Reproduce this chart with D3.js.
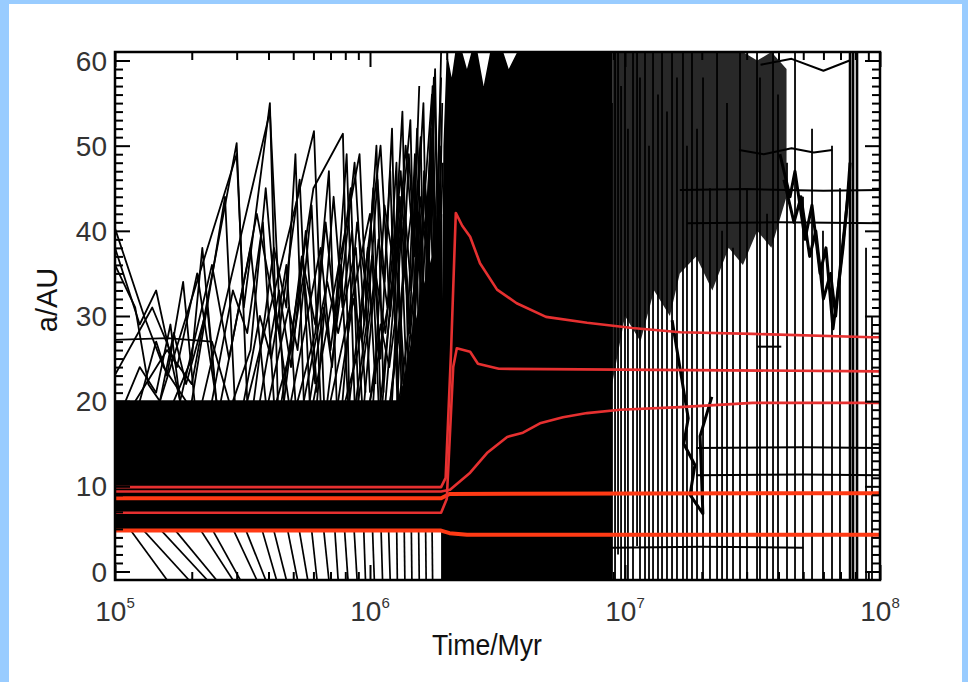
<!DOCTYPE html>
<html><head><meta charset="utf-8">
<script src="https://cdn.jsdelivr.net/npm/d3@7"></script>
<style>
html,body{margin:0;padding:0;background:#99ccff;}
svg{display:block}
</style></head><body>
<svg id="chart" width="968" height="682"></svg>
<script>
// ---------------- data ----------------
const xTickValues = [1e5, 1e6, 1e7, 1e8];
const xTickExponents = ["5", "6", "7", "8"];
const yTickValues = [0, 10, 20, 30, 40, 50, 60];

// dense band of planetesimals before the instability (time, low a, high a)
const bandTimes = [1e5, 1.95e6];
const bandLow = [4.9, 4.9];
const bandHigh = [20.1, 20.1];

// densest part of the scattered mesh just before the instability
const meshTimes = [1.3e6, 1.45e6, 1.6e6, 1.75e6, 1.92e6];
const meshTop = [20, 27, 33, 37, 42];

// fully chaotic phase: envelope of the black region (low edge at bottom)
const chaosTimes = [1.9e6, 1.94e6, 2.0e6, 2.09e6, 2.16e6, 2.3e6, 2.4e6, 2.5e6, 2.64e6, 2.79e6, 2.96e6, 3.12e6, 3.33e6, 3.5e6, 3.78e6, 4.07e6, 4.44e6, 4.87e6, 5.3e6, 6.1e6, 7.0e6, 7.98e6, 8.9e6];
const chaosTop = [20, 50, 61, 58, 61, 61, 59, 61, 61, 57, 61, 61, 61, 59, 61, 61, 61, 61, 61, 61, 61, 61, 61];

// upper dense scattered region after the instability
const scatterTimes = [8.9e6, 1.0e7, 1.15e7, 1.3e7, 1.5e7, 1.64e7, 1.9e7, 2.2e7, 2.55e7, 2.9e7, 3.3e7, 3.75e7, 4.3e7];
const scatterLow = [22, 30, 27, 33, 30, 35, 37, 33, 38, 36, 40, 38, 44];
const scatterHigh = [61, 61, 61, 61, 61, 61, 61, 61, 61, 61, 60, 61, 59];

// individual planetesimal tracks, early phase [time, a]
const earlyTracks = [
  [[1e5,40.3],[1.3e5,30],[1.55e5,24],[1.9e5,20]],
  [[1e5,38],[1.25e5,29],[1.45e5,33],[1.8e5,20]],
  [[1e5,36],[1.2e5,31],[1.35e5,22],[1.5e5,20]],
  [[1e5,27.2],[1.6e5,27.4],[2.4e5,27],[2.8e5,20]],
  [[1e5,23.1],[1.4e5,31],[1.75e5,24],[2.1e5,35],[2.5e5,20]],
  [[1.2e5,20],[1.6e5,26],[2.0e5,22],[3.0e5,50.3],[3.3e5,20]],
  [[1.5e5,20],[3.0e5,49],[3.2e5,31],[4.05e5,55],[4.35e5,20]],
  [[2.2e5,20],[4.05e5,54],[4.6e5,20]],
  [[3.3e5,20],[6.03e5,51.7],[6.6e5,20]],
  [[4.5e5,20],[6.0e5,45],[7.83e5,51.4],[8.3e5,20]],
  [[1.8e5,20],[2.4e5,36],[2.8e5,25],[3.4e5,38],[3.9e5,20]],
  [[2.6e5,20],[3.6e5,42],[4.4e5,28],[5.3e5,46],[5.8e5,20]],
  [[4.9e5,20],[6.4e5,38],[7.0e5,26],[8.4e5,45],[9.0e5,20]],
  [[6.0e5,20],[9.1e5,49],[1.0e6,21]],
  [[7.0e5,20],[1.0e6,42],[1.1e6,25],[1.2e6,47],[1.28e6,20]],
  [[8.3e5,20],[1.1e6,50],[1.2e6,30],[1.31e6,44],[1.4e6,20]],
  [[1.0e6,20],[1.3e6,38],[1.44e6,53],[1.52e6,24]],
  [[1.2e6,20],[1.5e6,46],[1.6e6,32],[1.72e6,49],[1.8e6,22]],
  [[1.3e6,20],[1.6e6,40],[1.75e6,56],[1.85e6,30],[1.93e6,48]],
  [[1.5e5,20],[1.7e5,28],[1.9e5,22],[2.3e5,31],[2.5e5,20]],
  [[1.1e5,20],[1.25e5,24],[1.45e5,21],[1.65e5,29],[1.8e5,20]],
  [[3.7e5,20],[4.4e5,33],[4.9e5,24],[5.6e5,40],[6.2e5,21]],
  [[5.5e5,20],[6.8e5,34],[7.5e5,28],[8.8e5,38],[9.6e5,21]],
  [[9.0e5,20],[1.05e6,35],[1.15e6,28],[1.25e6,40],[1.35e6,22]],
  [[1.1e6,20],[1.35e6,45],[1.45e6,33],[1.58e6,51],[1.65e6,22]],
  [[1.4e6,20],[1.55e6,36],[1.7e6,44],[1.8e6,33],[1.88e6,54]],
  [[3.2e5,20],[3.7e5,30],[4.1e5,25],[4.7e5,36],[5.1e5,20]],
  [[7.5e5,20],[8.6e5,32],[9.3e5,27],[1.02e6,37],[1.08e6,20]],
  [[2.0e5,20],[2.7e5,44],[2.95e5,20]],
  [[1.6e6,20],[1.7e6,35],[1.78e6,58],[1.84e6,42],[1.9e6,61]],
  [[1.15e6,20],[1.25e6,33],[1.38e6,50],[1.48e6,38],[1.56e6,57]],
  [[4.0e5,20],[4.8e5,31],[5.2e5,26],[5.9e5,43],[6.4e5,20]],
  [[4.6e5,20],[5.4e5,37],[6.1e5,29],[6.9e5,47],[7.4e5,20]],
  [[5.2e5,20],[6.1e5,28],[6.7e5,41],[7.3e5,30],[8.1e5,49],[8.7e5,20]],
  [[6.2e5,20],[7.2e5,44],[7.8e5,31],[8.5e5,40],[9.3e5,20]],
  [[6.8e5,20],[7.9e5,36],[8.7e5,48],[9.5e5,29],[1.03e6,45],[1.1e6,20]],
  [[7.8e5,20],[8.9e5,41],[9.7e5,33],[1.06e6,50],[1.13e6,21]],
  [[8.8e5,20],[9.8e5,30],[1.07e6,46],[1.14e6,34],[1.22e6,52],[1.29e6,20]],
  [[9.5e5,20],[1.08e6,39],[1.17e6,31],[1.27e6,48],[1.33e6,20]],
  [[1.03e6,20],[1.14e6,43],[1.24e6,36],[1.34e6,54],[1.42e6,21]],
  [[1.12e6,20],[1.22e6,34],[1.32e6,47],[1.41e6,30],[1.5e6,49],[1.57e6,20]],
  [[1.22e6,20],[1.33e6,41],[1.43e6,28],[1.53e6,52],[1.6e6,35],[1.68e6,20]],
  [[1.28e6,20],[1.42e6,49],[1.5e6,37],[1.62e6,55],[1.7e6,20]],
  [[1.36e6,20],[1.47e6,31],[1.57e6,44],[1.66e6,38],[1.76e6,57],[1.83e6,20]],
  [[1.46e6,20],[1.56e6,42],[1.64e6,30],[1.74e6,50],[1.82e6,36],[1.9e6,58]],
  [[1.52e6,20],[1.63e6,47],[1.71e6,39],[1.8e6,59],[1.88e6,25]],
  [[1.58e6,20],[1.68e6,38],[1.77e6,46],[1.86e6,34],[1.92e6,55]],
  [[1.65e6,20],[1.73e6,52],[1.81e6,29],[1.9e6,50]],
  [[2.4e5,20],[2.9e5,33],[3.3e5,28],[3.8e5,41],[4.2e5,20]],
  [[2.9e5,20],[3.4e5,26],[3.9e5,45],[4.3e5,30],[4.8e5,20]],
  [[3.5e5,20],[4.2e5,38],[4.7e5,31],[5.1e5,49],[5.5e5,20]],
  [[4.3e5,20],[5.0e5,27],[5.5e5,35],[6.1e5,22]],
  [[5.8e5,20],[6.6e5,31],[7.1e5,24],[7.7e5,36],[8.2e5,20]],
  [[8.0e5,20],[9.0e5,26],[9.8e5,38],[1.05e6,22]],
  [[1.0e6,20],[1.1e6,29],[1.19e6,24],[1.3e6,33],[1.38e6,20]],
  [[1.2e6,20],[1.29e6,27],[1.37e6,38],[1.46e6,26],[1.55e6,41],[1.62e6,20]],
  [[1.4e6,20],[1.5e6,29],[1.59e6,24],[1.69e6,39],[1.78e6,27],[1.87e6,44]],
  [[1.7e5,20],[2.0e5,25],[2.2e5,38],[2.45e5,23]],
  [[1.25e5,20],[1.45e5,27],[1.6e5,23],[1.85e5,34],[2.05e5,20]]
];

// planetesimals falling inward below the band [time, a]
const fallTracks = [
  [[1.0e5,8.5],[1.95e5,-1]], [[1.05e5,6.5],[1.6e5,-1]], [[1.3e5,7],[2.3e5,-1]],
  [[1.6e5,6],[2.5e5,-1]], [[1.9e5,7.5],[2.9e5,-1]], [[2.3e5,6],[3.1e5,-1]],
  [[2.7e5,7],[3.6e5,-1]], [[3.1e5,6.5],[3.9e5,-1]], [[3.6e5,7],[4.3e5,-1]],
  [[4.1e5,6],[4.7e5,-1]], [[4.6e5,7],[5.2e5,-1]], [[5.2e5,6],[5.7e5,-1]],
  [[5.8e5,7],[6.2e5,-1]], [[6.5e5,6.5],[6.9e5,-1]], [[7.2e5,7],[7.5e5,-1]],
  [[7.9e5,6],[8.2e5,-1]], [[8.6e5,6.5],[8.9e5,-1]], [[9.4e5,7],[9.6e5,-1]],
  [[1.02e6,6],[1.04e6,-1]], [[1.1e6,7],[1.12e6,-1]], [[1.18e6,6],[1.2e6,-1]],
  [[1.27e6,7],[1.28e6,-1]], [[1.36e6,6.5],[1.37e6,-1]], [[1.45e6,7],[1.46e6,-1]],
  [[1.55e6,6],[1.56e6,-1]], [[1.65e6,7],[1.66e6,-1]], [[1.75e6,6],[1.76e6,-1]]
];

// late survivors and wandering bodies [time, a]
const lateTracks = [
  [[1.64e7,44.8],[3e7,44.9],[6e7,44.7],[1e8,44.8]],
  [[1.75e7,40.9],[4e7,41.0],[1e8,40.9]],
  [[1.9e7,14.5],[5e7,14.6],[1e8,14.5]],
  [[1.9e7,11.3],[5e7,11.4],[1e8,11.3]],
  [[8.9e6,2.8],[2e7,2.9],[5.0e7,2.8]],
  [[3.3e7,26.4],[4.1e7,26.4]],
  [[2.8e7,49.5],[3.5e7,49.0],[4.5e7,49.7],[5.5e7,49.2],[6.5e7,49.5]],
  [[3.4e7,59.5],[4.5e7,60.2],[6e7,58.8],[7.6e7,60]],
  [[4.05e7,49],[4.44e7,44],[4.64e7,47],[5.08e7,39],[5.41e7,43],[5.82e7,35],[6.14e7,38],[6.54e7,28.5],[6.84e7,33],[7.16e7,38],[7.42e7,43],[7.63e7,48]],
  [[4.2e7,46],[4.6e7,41],[4.9e7,44],[5.3e7,37],[5.6e7,40],[6.0e7,32],[6.4e7,35],[6.7e7,30],[7.0e7,36],[7.3e7,41],[7.6e7,46]],
  [[1.53e7,29.5],[1.64e7,24],[1.77e7,18],[1.70e7,15],[1.88e7,12.5],[1.80e7,9],[2.02e7,6.8],[1.97e7,15.9],[2.19e7,20.5]]
];

// near-vertical excursions after the instability
const spikeTimes = [8.2e6, 8.42e6, 8.65e6, 8.89e6, 9.14e6, 9.39e6, 9.65e6, 1.0e7, 1.027e7, 1.075e7, 1.115e7, 1.145e7, 1.198e7, 1.242e7, 1.288e7, 1.347e7, 1.397e7, 1.461e7, 1.529e7, 1.599e7, 1.688e7, 1.75e7, 1.831e7, 1.916e7, 2.023e7, 2.154e7, 2.296e7, 2.402e7, 2.512e7, 2.652e7, 2.825e7, 3.009e7, 3.294e7, 3.384e7, 3.606e7, 3.806e7, 3.981e7, 4.318e7, 4.642e7, 4.989e7, 5.413e7, 5.976e7, 6.483e7, 6.967e7, 7.629e7, 7.838e7, 8.126e7, 8.815e7, 9.303e7];
const spikeLow = [-1,-1,-1,-1,-1,2,-1,-1,-1,-1,3,-1,-1,-1,-1,-1,-1,-1,-1,-1,-1,-1,-1,-1,-1,-1,-1,-1,-1,-1,-1,-1,-1,-1,-1,-1,-1,-1,-1,-1,-1,-1,-1,-1,-1,-1,-1,-1,-1];
const spikeHigh = [61,58,61,55,61,61,57,61,52,61,61,58,61,50,61,56,61,54,61,58,61,50,61,52,58,45,61,40,55,38,61,45,61,58,42,61,56,48,61,44,52,40,50,45,61,61,61,38,30];

// planets (red) [time, a]
const planetA = [[1e5,9.9],[1.9e6,9.9],[1.98e6,11],[2.08e6,26],[2.17e6,42.1],[2.3e6,40.6],[2.47e6,39.3],[2.7e6,36.2],[3.15e6,33.1],[3.76e6,31.5],[4.9e6,29.9],[7.1e6,29.2],[1.07e7,28.6],[1.65e7,28.1],[3.17e7,27.9],[9.3e7,27.5],[1e8,27.5]];
const planetB = [[1e5,6.9],[1.9e6,6.9],[2.0e6,8.5],[2.12e6,24],[2.19e6,26.2],[2.47e6,25.8],[2.65e6,24.4],[3.2e6,23.8],[1e8,23.5]];
const planetC = [[1e5,9.4],[1.9e6,9.4],[2.06e6,9.6],[2.47e6,11.6],[2.875e6,13.9],[3.45e6,15.8],[3.98e6,16.3],[4.64e6,17.4],[5.71e6,18.1],[7.1e6,18.6],[9.56e6,19.0],[1.64e7,19.3],[3.17e7,19.8],[1e8,19.8]];
const planetD = [[1e5,8.6],[1.9e6,8.6],[2.05e6,9.1],[1e8,9.2]];
const planetE = [[1e5,4.8],[1.9e6,4.8],[2.05e6,4.5],[2.4e6,4.3],[1e8,4.3]];

// ---------------- drawing ----------------
(function(){
const svg = d3.select("#chart");
const W = 968, H = 682;
const pL = 115, pR = 880, pT = 52, pB = 580;

svg.append("rect").attr("x",0).attr("y",0).attr("width",W).attr("height",H).attr("fill","#99ccff");
svg.append("rect").attr("x",9).attr("y",4).attr("width",953).attr("height",678).attr("fill","#ffffff");

const x = d3.scaleLog().domain([1e5,1e8]).range([pL,pR]);
const y = d3.scaleLinear().domain([-1,61]).range([pB,pT]);

svg.append("defs").append("clipPath").attr("id","plotclip")
  .append("rect").attr("x",pL).attr("y",pT).attr("width",pR-pL).attr("height",pB-pT);

const plot = svg.append("g").attr("clip-path","url(#plotclip)");

const area = d3.area().x(d=>x(d[0])).y0(d=>y(d[1])).y1(d=>y(d[2]));
const line = d3.line().x(d=>x(d[0])).y(d=>y(d[1]));

plot.append("path").datum(bandTimes.map((t,i)=>[t,bandLow[i],bandHigh[i]]))
  .attr("d",area).attr("fill","#000");
plot.append("path").datum(meshTimes.map((t,i)=>[t,20,meshTop[i]]))
  .attr("d",area).attr("fill","#000");
plot.append("path").datum(chaosTimes.map((t,i)=>[t,-1,chaosTop[i]]))
  .attr("d",area).attr("fill","#000");
plot.append("path").datum(scatterTimes.map((t,i)=>[t,scatterLow[i],scatterHigh[i]]))
  .attr("d",area).attr("fill","#111").attr("fill-opacity",0.9);

const blackLines = plot.append("g").attr("fill","none").attr("stroke","#000").attr("stroke-linejoin","round");
blackLines.selectAll("path.early").data(earlyTracks).join("path").attr("class","early")
  .attr("d",line).attr("stroke-width",1.8);
blackLines.selectAll("path.fall").data(fallTracks).join("path").attr("class","fall")
  .attr("d",line).attr("stroke-width",1.7);
blackLines.selectAll("path.spike").data(spikeTimes.map((t,i)=>[[t,spikeLow[i]],[t,spikeHigh[i]]]))
  .join("path").attr("class","spike").attr("d",line).attr("stroke-width",(d,i)=> (i>=44 && i<=46) ? 2.6 : 1.8);
blackLines.selectAll("path.late").data(lateTracks).join("path").attr("class","late")
  .attr("d",line).attr("stroke-width",(d,i)=> i>=8 ? 3 : 2);

const reds = plot.append("g").attr("fill","none").attr("stroke-linejoin","round");
[[planetE,"#ff3a14",4],[planetD,"#ff3a14",4],[planetC,"#e63030",2.6],[planetB,"#e63030",2.6],[planetA,"#e63030",2.6]]
  .forEach(([data,col,w])=>{
    reds.append("path").datum(data).attr("d",line).attr("stroke",col).attr("stroke-width",w);
  });

svg.append("rect").attr("x",pL).attr("y",pT).attr("width",pR-pL).attr("height",pB-pT)
  .attr("fill","none").attr("stroke","#000").attr("stroke-width",2.5);

const xMinor = [];
[1e5,1e6,1e7].forEach(d=>{ for(let k=2;k<=9;k++) xMinor.push(d*k); });
const yMinor = d3.range(0,61).filter(v=>v%10!==0);

function styleAxis(g){
  g.select(".domain").remove();
  g.selectAll(".tick line").attr("stroke","#000").attr("stroke-width",2);
  g.selectAll(".tick text").remove();
}
svg.append("g").attr("transform",`translate(0,${pB})`).call(d3.axisBottom(x).tickValues(xTickValues).tickSize(-15).tickFormat("")).call(styleAxis);
svg.append("g").attr("transform",`translate(0,${pB})`).call(d3.axisBottom(x).tickValues(xMinor).tickSize(-8).tickFormat("")).call(styleAxis);
svg.append("g").attr("transform",`translate(0,${pT})`).call(d3.axisTop(x).tickValues(xTickValues).tickSize(-15).tickFormat("")).call(styleAxis);
svg.append("g").attr("transform",`translate(0,${pT})`).call(d3.axisTop(x).tickValues(xMinor).tickSize(-8).tickFormat("")).call(styleAxis);
svg.append("g").attr("transform",`translate(${pL},0)`).call(d3.axisLeft(y).tickValues(yTickValues).tickSize(-15).tickFormat("")).call(styleAxis);
svg.append("g").attr("transform",`translate(${pL},0)`).call(d3.axisLeft(y).tickValues(yMinor).tickSize(-8).tickFormat("")).call(styleAxis);
svg.append("g").attr("transform",`translate(${pR},0)`).call(d3.axisRight(y).tickValues(yTickValues).tickSize(-15).tickFormat("")).call(styleAxis);
svg.append("g").attr("transform",`translate(${pR},0)`).call(d3.axisRight(y).tickValues(yMinor).tickSize(-8).tickFormat("")).call(styleAxis);

const font = "'Liberation Sans', Arial, Helvetica, sans-serif";
const xl = svg.append("g").attr("font-family",font).attr("fill","#333");
xTickValues.forEach((v,i)=>{
  const t = xl.append("text").attr("x",x(v)).attr("y",621).attr("text-anchor","middle").attr("font-size",28);
  t.append("tspan").text("10");
  t.append("tspan").attr("dy",-13).attr("font-size",15).text(xTickExponents[i]);
});
const yl = svg.append("g").attr("font-family",font).attr("fill","#333");
yTickValues.forEach(v=>{
  yl.append("text").attr("x",107).attr("y",y(v)).attr("dy","0.36em")
    .attr("text-anchor","end").attr("font-size",28).text(String(v));
});

svg.append("text").attr("x",487).attr("y",655).attr("text-anchor","middle")
  .attr("font-family",font).attr("font-size",29).attr("fill","#111")
  .attr("textLength",110).attr("lengthAdjust","spacingAndGlyphs").text("Time/Myr");
svg.append("text").attr("transform","translate(57,300) rotate(-90)").attr("text-anchor","middle")
  .attr("font-family",font).attr("font-size",29).attr("fill","#111").text("a/AU");
})();
</script></body></html>
